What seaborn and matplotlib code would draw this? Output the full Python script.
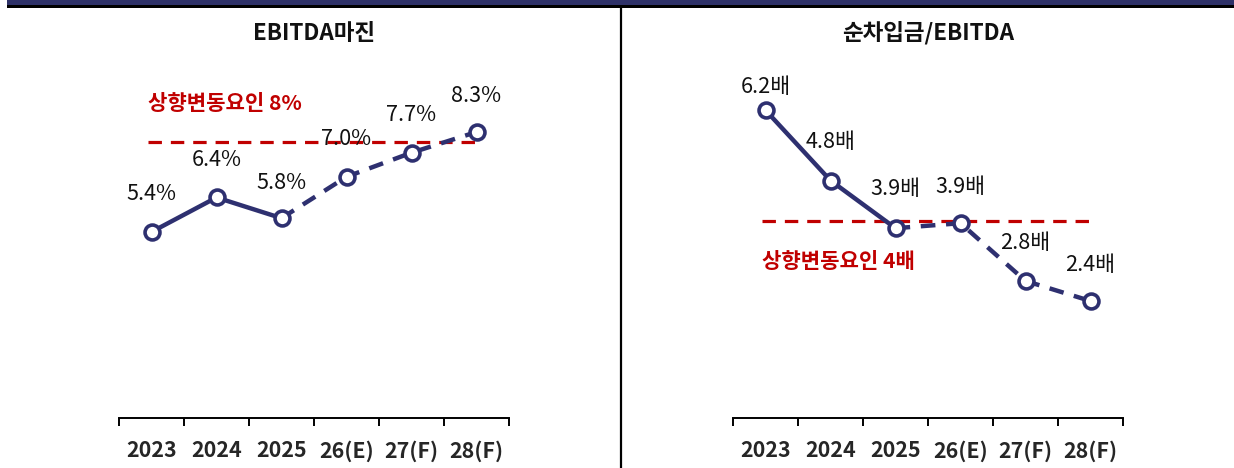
import matplotlib
matplotlib.use("Agg")
import matplotlib.pyplot as plt
import seaborn as sns
import pandas as pd
from matplotlib.patches import Rectangle
from matplotlib.lines import Line2D

# ---- data ----
categories = ["2023", "2024", "2025", "26(E)", "27(F)", "28(F)"]
ebitda_margin = [5.4, 6.4, 5.8, 7.0, 7.7, 8.3]
margin_labels = ["5.4%", "6.4%", "5.8%", "7.0%", "7.7%", "8.3%"]
net_debt_ebitda = [6.2, 4.8, 3.85, 3.95, 2.8, 2.4]
debt_labels = ["6.2배", "4.8배", "3.9배", "3.9배", "2.8배", "2.4배"]
margin_threshold = 8.0
debt_threshold = 4.0
margin_threshold_text = "상향변동요인 8%"
debt_threshold_text = "상향변동요인 4배"
titles = ["EBITDA마진", "순차입금/EBITDA"]
n_actual = 3  # first three are actual (solid), rest forecast (dashed)

sns.set_theme(style="white")
plt.rcParams['font.family'] = ['Noto Sans CJK KR', 'DejaVu Sans']

NAVY = "#2E3070"
RED = "#C00000"

W, H = 1234, 468
fig = plt.figure(figsize=(W / 100, H / 100), dpi=100)
fig.patch.set_facecolor("white")

# top band
fig.patches.append(Rectangle((7 / W, 1 - 5 / H), 1 - 7 / W, 5 / H, transform=fig.transFigure,
                             facecolor="#2E3168", edgecolor="none"))
fig.patches.append(Rectangle((7 / W, 1 - 7.5 / H), 1 - 7 / W, 2.5 / H, transform=fig.transFigure,
                             facecolor="black", edgecolor="none"))
# divider
fig.lines.append(Line2D([620.5 / W, 620.5 / W], [0, 1 - 7 / H], transform=fig.transFigure,
                        color="black", lw=1.6))


def draw_panel(ax, values, labels, thr, thr_text, thr_text_y, ylim, label_offsets, title, title_x):
    df = pd.DataFrame({"x": range(len(categories)), "y": values})
    solid = df.iloc[:n_actual]
    dashed = df.iloc[n_actual - 1:]
    ax.hlines(thr, -0.05, 5.06, colors=RED, lw=2.3, linestyles=(0, (4.2, 2.8)), zorder=1)
    sns.lineplot(data=solid, x="x", y="y", ax=ax, color=NAVY, lw=3.2, zorder=2)
    sns.lineplot(data=dashed, x="x", y="y", ax=ax, color=NAVY, lw=3.2, zorder=2,
                 dashes=False, linestyle=(0, (3.3, 2.4)))
    sns.scatterplot(data=df, x="x", y="y", ax=ax, s=115, color="white", edgecolor=NAVY,
                    linewidth=2.6, zorder=3)
    for xi, (v, lab, off) in enumerate(zip(values, labels, label_offsets)):
        ax.annotate(lab, (xi, v), xytext=(0, off), textcoords="offset points",
                    ha="center", va="center", fontsize=15.6, color="#111111", zorder=4)
    ax.text(-0.05, thr_text_y, thr_text, color=RED, fontsize=15.2, fontweight="bold",
            ha="left", va="center")
    ax.set_xlim(-0.5, 5.5)
    ax.set_ylim(*ylim)
    ax.set_xticks(range(len(categories)))
    ax.set_xticklabels(categories, fontsize=15.4, fontweight="bold")
    ax.set_xticks([i - 0.5 for i in range(len(categories) + 1)], minor=True)
    ax.tick_params(axis="x", which="major", length=0, pad=16)
    ax.tick_params(axis="x", which="minor", direction="out", length=5.5, width=1.4, color="black", bottom=True)
    ax.set_yticks([])
    ax.set_xlabel("")
    ax.set_ylabel("")
    for s in ["top", "right", "left"]:
        ax.spines[s].set_visible(False)
    ax.spines["bottom"].set_color("black")
    ax.spines["bottom"].set_linewidth(1.4)
    ax.set_facecolor("none")
    fig.text(title_x, 1 - 33 / H, title, ha="center", va="center", fontsize=16.2, fontweight="bold",
             color="#111111")


bottom = 1 - 418 / H
height = (418 - 60) / H
ax1 = fig.add_axes([119 / W, bottom, 390 / W, height])
ax2 = fig.add_axes([733 / W, bottom, 390 / W, height])

draw_panel(ax1, ebitda_margin, margin_labels, margin_threshold, margin_threshold_text, 9.14,
           (0, 10.39), [27, 27, 25, 27, 27, 26], titles[0], 314 / W)
draw_panel(ax2, net_debt_ebitda, debt_labels, debt_threshold, debt_threshold_text, 3.18,
           (0.07, 7.2), [17, 28, 28, 26, 27, 26], titles[1], 928 / W)

fig.savefig("out.png", dpi=100, facecolor="white")
